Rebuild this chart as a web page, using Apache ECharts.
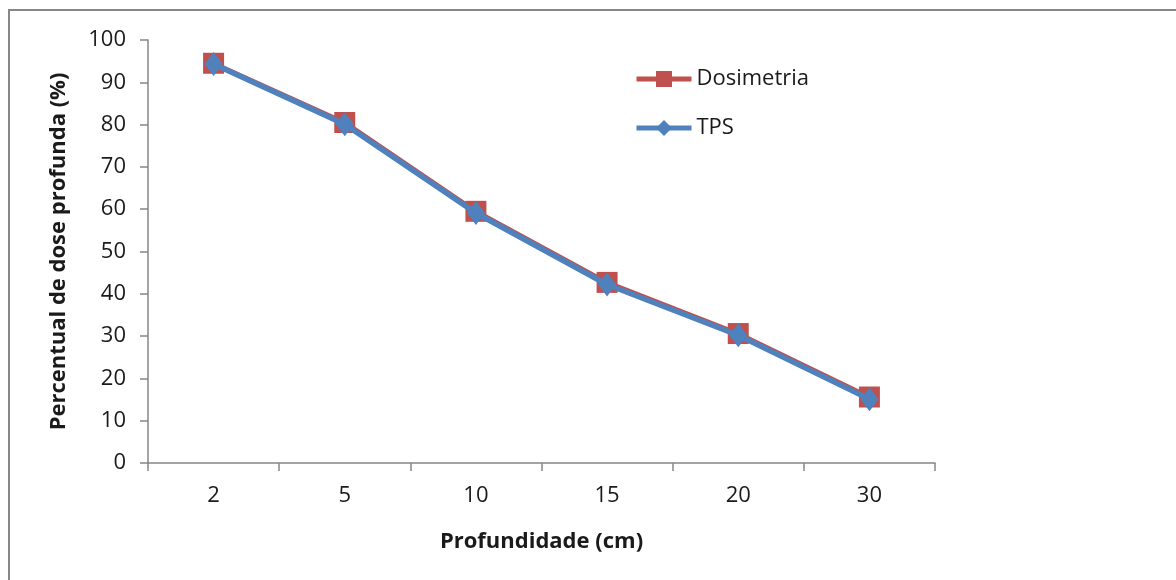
<!DOCTYPE html>
<html>
<head>
<meta charset="utf-8">
<script src="https://cdn.jsdelivr.net/npm/echarts@6/dist/echarts.min.js"></script>
<style>
html,body{margin:0;padding:0;background:#fff;}
#chart{width:1176px;height:580px;}
</style>
</head>
<body>
<div id="chart"></div>
<script>
const categories = ['2', '5', '10', '15', '20', '30'];
const dosimetria = [94.5, 80.5, 59.5, 42.7, 30.6, 15.6];
const tps = [94.3, 80.1, 59.1, 42.2, 30.2, 15.1];
const seriesNames = ['Dosimetria', 'TPS'];
const xTitle = 'Profundidade (cm)';
const yTitle = 'Percentual de dose profunda (%)';

const FONT = '"Open Sans", "Liberation Sans", sans-serif';
const chart = echarts.init(document.getElementById('chart'), null, {renderer: 'canvas'});
chart.setOption({
  animation: false,
  backgroundColor: '#ffffff',
  graphic: [{
    type: 'rect',
    shape: {x: 9, y: 10, width: 1250, height: 650},
    style: {fill: 'none', stroke: '#878787', lineWidth: 2},
    silent: true,
    z: -1
  }],
  grid: {left: 148, right: 241, top: 40, bottom: 117, containLabel: false},
  legend: {
    orient: 'vertical',
    left: 634,
    top: 68,
    padding: 0,
    itemWidth: 55,
    itemHeight: 20,
    itemGap: 27,
    itemTextGap: 7,
    lineStyle: {width: 5},
    textStyle: {fontFamily: FONT, fontSize: 22, color: '#1a1a1a', padding: [0, 0, 0, 0]},
    data: seriesNames
  },
  xAxis: {
    type: 'category',
    data: categories,
    boundaryGap: true,
    name: xTitle,
    nameLocation: 'middle',
    nameGap: 68,
    nameTextStyle: {fontFamily: FONT, fontSize: 22, fontWeight: 'bold', color: '#1a1a1a'},
    axisLine: {lineStyle: {color: '#868686', width: 1.5}},
    axisTick: {show: true, inside: false, length: 8, alignWithLabel: false, lineStyle: {color: '#868686', width: 1.5}},
    axisLabel: {fontFamily: FONT, fontSize: 22, color: '#1a1a1a', margin: 22},
    splitLine: {show: false}
  },
  yAxis: {
    type: 'value',
    min: 0,
    max: 100,
    interval: 10,
    name: yTitle,
    nameLocation: 'middle',
    nameGap: 78,
    nameRotate: 90,
    nameTextStyle: {fontFamily: FONT, fontSize: 22, fontWeight: 'bold', color: '#1a1a1a'},
    axisLine: {show: true, lineStyle: {color: '#868686', width: 1.5}},
    axisTick: {show: true, inside: false, length: 8, lineStyle: {color: '#868686', width: 1.5}},
    axisLabel: {fontFamily: FONT, fontSize: 22, color: '#1a1a1a', margin: 22},
    splitLine: {show: false}
  },
  series: [
    {
      name: seriesNames[0],
      type: 'line',
      data: dosimetria,
      symbol: 'rect',
      symbolSize: 21,
      itemStyle: {color: '#C0504D'},
      lineStyle: {color: '#C0504D', width: 4.5},
      z: 2
    },
    {
      name: seriesNames[1],
      type: 'line',
      data: tps,
      symbol: 'diamond',
      symbolSize: [18, 24],
      itemStyle: {color: '#4F81BD'},
      lineStyle: {color: '#4F81BD', width: 5.5},
      z: 3
    }
  ]
});
</script>
</body>
</html>
